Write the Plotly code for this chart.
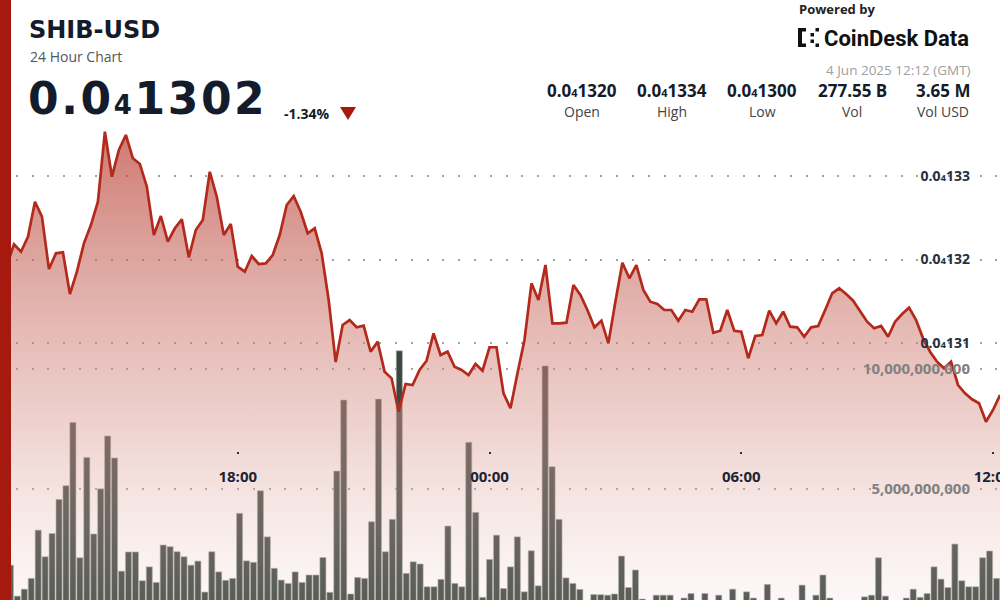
import plotly.graph_objects as go
import pandas as pd

# ---------------- data ----------------
price_start = "2025-06-03 12:20"
price = [
    1.31970e-5, 1.31934e-5, 1.32182e-5, 1.32093e-5, 1.32273e-5, 1.32692e-5, 1.32513e-5, 1.31886e-5,
    1.32074e-5, 1.32086e-5, 1.31587e-5, 1.31854e-5, 1.32194e-5, 1.32413e-5, 1.32692e-5, 1.33531e-5,
    1.32992e-5, 1.33311e-5, 1.33491e-5, 1.33212e-5, 1.33144e-5, 1.32872e-5, 1.32293e-5, 1.32521e-5,
    1.32213e-5, 1.32374e-5, 1.32481e-5, 1.32026e-5, 1.32353e-5, 1.32473e-5, 1.33051e-5, 1.32752e-5,
    1.32293e-5, 1.32425e-5, 1.31914e-5, 1.31854e-5, 1.32042e-5, 1.31946e-5, 1.31954e-5, 1.32054e-5,
    1.32293e-5, 1.32653e-5, 1.32760e-5, 1.32572e-5, 1.32314e-5, 1.32374e-5, 1.32074e-5, 1.31515e-5,
    1.30772e-5, 1.31216e-5, 1.31275e-5, 1.31188e-5, 1.31207e-5, 1.30896e-5, 1.31016e-5, 1.30656e-5,
    1.30577e-5, 1.30177e-5, 1.30509e-5, 1.30497e-5, 1.30677e-5, 1.30788e-5, 1.31116e-5, 1.30856e-5,
    1.30896e-5, 1.30716e-5, 1.30677e-5, 1.30617e-5, 1.30749e-5, 1.30668e-5, 1.30949e-5, 1.30949e-5,
    1.30398e-5, 1.30218e-5, 1.30637e-5, 1.31036e-5, 1.31715e-5, 1.31515e-5, 1.31934e-5, 1.31236e-5,
    1.31236e-5, 1.31243e-5, 1.31695e-5, 1.31575e-5, 1.31395e-5, 1.31188e-5, 1.31267e-5, 1.30996e-5,
    1.31495e-5, 1.31962e-5, 1.31775e-5, 1.31934e-5, 1.31635e-5, 1.31495e-5, 1.31467e-5, 1.31395e-5,
    1.31395e-5, 1.31267e-5, 1.31395e-5, 1.31375e-5, 1.31523e-5, 1.31523e-5, 1.31123e-5, 1.31147e-5,
    1.31395e-5, 1.31147e-5, 1.31135e-5, 1.30817e-5, 1.31084e-5, 1.31096e-5, 1.31387e-5, 1.31236e-5,
    1.31375e-5, 1.31195e-5, 1.31188e-5, 1.31075e-5, 1.31188e-5, 1.31204e-5, 1.31395e-5, 1.31595e-5,
    1.31655e-5, 1.31587e-5, 1.31507e-5, 1.31375e-5, 1.31255e-5, 1.31176e-5, 1.31204e-5, 1.31075e-5,
    1.31255e-5, 1.31347e-5, 1.31423e-5, 1.31275e-5, 1.31056e-5, 1.30896e-5, 1.30776e-5, 1.30697e-5,
    1.30776e-5, 1.30497e-5, 1.30398e-5, 1.30326e-5, 1.30278e-5, 1.30057e-5, 1.30198e-5, 1.30377e-5,
]

volume = [
    2.00e9, 1.83e9, 0.54e9, 0.83e9, 1.28e9, 3.29e9, 2.18e9, 3.15e9, 4.57e9, 5.14e9, 7.78e9, 2.14e9,
    6.32e9, 3.13e9, 5.01e9, 7.21e9, 6.30e9, 1.58e9, 2.38e9, 2.38e9, 1.18e9, 1.76e9, 1.11e9, 2.67e9,
    2.60e9, 2.39e9, 2.18e9, 1.83e9, 2.00e9, 0.71e9, 2.39e9, 1.55e9, 1.20e9, 1.28e9, 3.99e9, 2.01e9,
    1.95e9, 4.93e9, 3.01e9, 1.70e9, 1.21e9, 1.07e9, 1.55e9, 1.11e9, 1.42e9, 1.42e9, 2.15e9, 0.70e9,
    5.75e9, 8.71e9, 0.63e9, 1.32e9, 1.28e9, 3.64e9, 8.75e9, 2.39e9, 3.74e9, 10.76e9, 1.49e9, 1.97e9,
    1.88e9, 0.93e9, 0.93e9, 1.24e9, 3.46e9, 1.07e9, 0.93e9, 6.95e9, 4.03e9, 0.49e9, 2.07e9, 3.08e9,
    0.86e9, 1.76e9, 3.01e9, 0.72e9, 2.43e9, 0.97e9, 10.13e9, 5.93e9, 3.74e9, 1.30e9, 1.07e9, 0.82e9,
    0.30e9, 0.61e9, 0.60e9, 0.58e9, 0.63e9, 2.21e9, 0.90e9, 1.63e9, 0.42e9, 0.30e9, 0.58e9, 0.58e9,
    0.58e9, 0.30e9, 0.46e9, 0.65e9, 0.30e9, 0.65e9, 0.35e9, 0.58e9, 0.30e9, 0.83e9, 0.35e9, 0.72e9,
    0.46e9, 0.30e9, 1.03e9, 0.30e9, 0.46e9, 0.30e9, 0.35e9, 1.00e9, 0.30e9, 0.58e9, 1.42e9, 0.46e9,
    0.30e9, 0.35e9, 0.30e9, 0.30e9, 0.51e9, 0.58e9, 2.14e9, 0.54e9, 0.30e9, 0.35e9, 0.46e9, 0.83e9,
    0.49e9, 0.65e9, 1.76e9, 1.25e9, 0.90e9, 2.71e9, 1.18e9, 0.93e9, 0.93e9, 2.14e9, 2.42e9, 1.28e9,
]

x_tick_start = "2025-06-03 18:00"
x_tick_step_ms = 6 * 3600 * 1000
price_ticks = [1.31e-5, 1.32e-5, 1.33e-5]
price_tick_labels = ['0.0<span style="font-size:9.5px">4</span>131',
                     '0.0<span style="font-size:9.5px">4</span>132',
                     '0.0<span style="font-size:9.5px">4</span>133']
vol_ticks = [5e9, 10e9]
vol_tick_labels = ["5,000,000,000", "10,000,000,000"]

stat_values = ['0.0<span style="font-size:11px">4</span>1320', '0.0<span style="font-size:11px">4</span>1334',
               '0.0<span style="font-size:11px">4</span>1300', '277.55 B', '3.65 M']
stat_labels = ["Open", "High", "Low", "Vol", "Vol USD"]

price_times = pd.date_range(price_start, periods=len(price), freq="10min")
bar_labels = pd.date_range(price_start, periods=len(volume), freq="10min").strftime("%m-%d %H:%M").tolist()

# ---------------- helpers (pixel -> paper) ----------------
W, H = 1000, 600
def PX(x):
    return x / W
def PY(y):
    return 1 - y / H

FONT = "Open Sans"
WIDE = "DejaVu Sans"
DARK = "#141b2b"
LABEL_EDGE = 970  # right edge of the value-axis labels, in pixels

fig = go.Figure()

fig.add_trace(go.Bar(
    x=bar_labels, y=volume, xaxis="x", yaxis="y",
    marker=dict(color="#3d4742", line=dict(color="rgba(170,172,168,0.9)", width=0.7)),
    hoverinfo="skip",
))

fig.add_trace(go.Scatter(
    x=price_times, y=price, xaxis="x2", yaxis="y2", mode="lines",
    line=dict(color="#b3291c", width=2.7),
    fill="tozeroy",
    fillgradient=dict(
        type="vertical",
        colorscale=[[0.0, "rgba(236,205,200,0.16)"],
                    [0.38, "rgba(216,150,141,0.44)"],
                    [1.0, "rgba(182,58,46,0.68)"]],
        start=1.2792e-5, stop=1.3355e-5,
    ),
    hoverinfo="skip",
))

grid = dict(showgrid=True, gridcolor="#a3a3a3", gridwidth=2, griddash="2px,13.8px")

fig.update_layout(
    width=W, height=H, autosize=False,
    margin=dict(l=0, r=0, t=0, b=0, autoexpand=False),
    paper_bgcolor="white", plot_bgcolor="white",
    showlegend=False, bargap=0.13,
    font=dict(family=FONT, color=DARK),
    xaxis=dict(type="category", range=[-0.5, len(volume) - 0.5], visible=False, fixedrange=True),
    xaxis2=dict(
        type="date", overlaying="x", anchor="free", position=(H - 451) / H, side="bottom",
        range=[price_times[0], price_times[-1]],
        tickmode="linear", tick0=x_tick_start, dtick=x_tick_step_ms, tickformat="%H:%M",
        ticks="outside", ticklen=2, tickwidth=2, tickcolor="#2a3040",
        showgrid=False, zeroline=False, showline=False,
        tickfont=dict(family=FONT, size=15, color="#1c2333", weight="bold"),
        ticklabelstandoff=10, ticklabeloverflow="allow", automargin=False,
    ),
    yaxis=dict(
        range=[3.79e8, 2.538e10], side="left", anchor="free", position=PX(LABEL_EDGE),
        tickvals=vol_ticks, ticktext=vol_tick_labels,
        ticks="", ticklabelstandoff=0,
        zeroline=False, showline=False, automargin=False,
        tickfont=dict(family=FONT, size=15, color="#808080", weight="bold"),
        **grid,
    ),
    yaxis2=dict(
        range=[1.27922e-5, 1.35108e-5], side="left", anchor="free", position=PX(LABEL_EDGE),
        overlaying="y",
        tickvals=price_ticks, ticktext=price_tick_labels,
        ticks="", ticklabelstandoff=0,
        zeroline=False, showline=False, automargin=False,
        tickfont=dict(family=FONT, size=14, color="#283040", weight="bold"),
        **grid,
    ),
)

ann = []
def text(x, y, s, size, color=DARK, bold=False, xanchor="left", family=FONT):
    ann.append(dict(x=PX(x), y=PY(y), xref="paper", yref="paper", text=s, showarrow=False,
                    xanchor=xanchor, yanchor="middle", borderpad=0,
                    font=dict(family=family, size=size, color=color, weight="bold" if bold else "normal")))

text(28, 30, "SHIB-USD", 24, bold=True, family=WIDE)
text(29, 56.5, "24 Hour Chart", 14, color="#555555")
text(27, 98, '<span style="letter-spacing:2.6px">0.0<span style="font-size:26px">4</span>1302</span>',
     44, bold=True, family=WIDE)
text(283, 114, "-1.34%", 14, bold=True)

col_x = [582, 672, 762, 852, 943]
for cx, v, l in zip(col_x, stat_values, stat_labels):
    text(cx, 91, v, 17, bold=True, xanchor="center")
    text(cx, 112, l, 14, color="#444444", xanchor="center")

text(798, 9, "Powered by", 13, color="#222222", bold=True)
text(823, 38, "CoinDesk Data", 22, color="#111111", bold=True, family="Roboto")
text(972, 70, "4 Jun 2025 12:12 (GMT)", 13.5, color="#a0a0a0", xanchor="right")

fig.update_layout(annotations=ann)

shapes = []
# left red band
shapes.append(dict(type="rect", xref="paper", yref="paper", x0=0, x1=PX(11), y0=0, y1=1,
                   fillcolor="#a6190e", line=dict(width=0), layer="above"))
# down triangle
shapes.append(dict(type="path", xref="paper", yref="paper",
                   path=f"M {PX(340)},{PY(107)} L {PX(356)},{PY(107)} L {PX(348)},{PY(120)} Z",
                   fillcolor="#a6190e", line=dict(width=0)))
# CoinDesk icon (dot bracket)
icon = [(798, 28, 802, 47), (798, 28, 806, 31.5), (798, 43.5, 806, 47),
        (810.5, 33, 814, 36.5), (810.5, 39.5, 814, 43), (815.5, 28, 819, 31.5), (815.5, 43.5, 819, 47)]
for x0, y0, x1, y1 in icon:
    shapes.append(dict(type="rect", xref="paper", yref="paper", x0=PX(x0), x1=PX(x1), y0=PY(y1), y1=PY(y0),
                       fillcolor="#111111", line=dict(width=0)))
fig.update_layout(shapes=shapes)

fig.write_html(
    "out.html",
    config={"responsive": False, "displayModeBar": False},
    post_script="document.body.style.margin='0';document.body.style.overflow='hidden';",
)
